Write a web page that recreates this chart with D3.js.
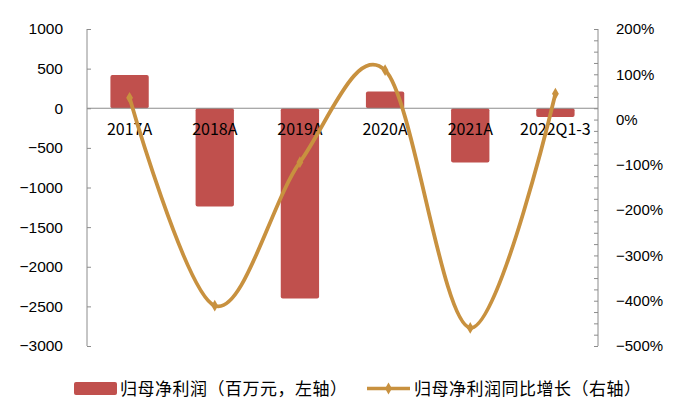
<!DOCTYPE html>
<html><head><meta charset="utf-8">
<script src="https://cdn.jsdelivr.net/npm/d3@7"></script>
<style>body{margin:0;background:#fff}svg{display:block}</style>
</head><body>
<script>
const categories = ["2017A","2018A","2019A","2020A","2021A","2022Q1-3"];
const profit = [420, -1240, -2400, 210, -685, -110];
const growth = [48, -411, -94, 109, -460, 57];
const leftTicks = [1000, 500, 0, -500, -1000, -1500, -2000, -2500, -3000];
const rightTicks = [200, 100, 0, -100, -200, -300, -400, -500];
const legendLabels = ["归母净利润（百万元，左轴）", "归母净利润同比增长（右轴）"];

const W = 676, H = 414;
const x0 = 87, x1 = 598, yTop = 29, yBot = 346;
const barColor = "#C0504D", lineColor = "#C8913F", axisColor = "#8c8c8c";
const svg = d3.select("body").append("svg").attr("width", W).attr("height", H);

const x = d3.scaleBand().domain(categories).range([x0, x1]).paddingInner(0.55).paddingOuter(0.275);
const yL = d3.scaleLinear().domain([-3000, 1000]).range([yBot, yTop]);
const yR = d3.scaleLinear().domain([-500, 200]).range([yBot, yTop]);

// bars
svg.append("g").selectAll("rect").data(profit).join("rect")
  .attr("x", (d, i) => x(categories[i]))
  .attr("width", x.bandwidth())
  .attr("y", d => yL(Math.max(0, d)))
  .attr("height", d => Math.abs(yL(d) - yL(0)))
  .attr("rx", 2).attr("fill", barColor);

// zero line
svg.append("line").attr("x1", x0).attr("x2", x1).attr("y1", yL(0)).attr("y2", yL(0))
  .attr("stroke", axisColor).attr("stroke-width", 1.2);

// left axis
const axL = d3.axisLeft(yL).tickValues(leftTicks).tickSize(-4).tickPadding(24)
  .tickFormat(d => d < 0 ? "\u2212" + Math.abs(d) : String(d));
const gL = svg.append("g").attr("transform", `translate(${x0},0)`).call(axL);
gL.select(".domain").attr("stroke", axisColor).attr("d", `M-0,${yTop}V${yBot}`);
gL.selectAll(".tick line").attr("stroke", axisColor);
gL.selectAll("text").attr("font-family", "Liberation Sans, Arial, sans-serif").attr("font-size", 15.5).attr("fill", "#000");

// right axis
const minor = d3.range(-500, 201, 25);
const axR = d3.axisRight(yR).tickValues(minor).tickSize(-4).tickPadding(18)
  .tickFormat(d => rightTicks.includes(d) ? (d < 0 ? "\u2212" + Math.abs(d) : d) + "%" : "");
const gR = svg.append("g").attr("transform", `translate(${x1},0)`).call(axR);
gR.select(".domain").attr("stroke", axisColor).attr("d", `M0,${yTop}V${yBot}`);
gR.selectAll(".tick line").attr("stroke", axisColor);
gR.selectAll("text").attr("font-family", "Liberation Sans, Arial, sans-serif").attr("font-size", 15).attr("fill", "#000");

// category labels
svg.append("g").selectAll("text").data(categories).join("text")
  .attr("x", d => x(d) + x.bandwidth() / 2).attr("y", 135)
  .attr("text-anchor", "middle").attr("font-family", "Noto Sans CJK SC, sans-serif")
  .attr("font-size", 16).attr("fill", "#000").text(d => d);

// line
const pts = growth.map((v, i) => [x(categories[i]) + x.bandwidth() / 2, yR(v)]);
svg.append("path").attr("d", d3.line().curve(d3.curveCardinal.tension(0))(pts))
  .attr("fill", "none").attr("stroke", lineColor).attr("stroke-width", 3.8);
svg.append("g").selectAll("path").data(pts).join("path")
  .attr("d", d3.symbol(d3.symbolDiamond, 40)())
  .attr("transform", d => `translate(${d[0]},${d[1]})`).attr("fill", lineColor);

// legend
const lg = svg.append("g").attr("font-family", "Noto Sans CJK SC, sans-serif").attr("font-size", 17).attr("letter-spacing", "0.5px");
lg.append("rect").attr("x", 74).attr("y", 382).attr("width", 43).attr("height", 13).attr("rx", 2).attr("fill", barColor);
lg.append("text").attr("x", 120).attr("y", 395).text(legendLabels[0]);
lg.append("line").attr("x1", 367).attr("x2", 410).attr("y1", 388.5).attr("y2", 388.5).attr("stroke", lineColor).attr("stroke-width", 3.5);
lg.append("path").attr("d", d3.symbol(d3.symbolDiamond, 40)()).attr("transform", "translate(388.5,388.5)").attr("fill", lineColor);
lg.append("text").attr("x", 414).attr("y", 395).text(legendLabels[1]);
</script>
</body></html>
